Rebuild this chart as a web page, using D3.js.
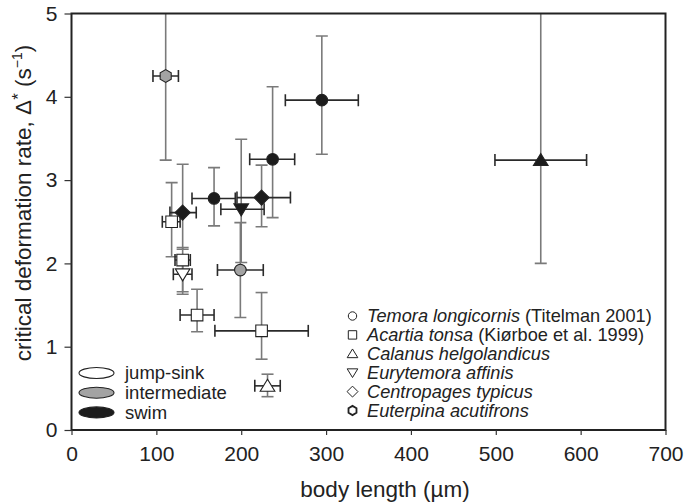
<!DOCTYPE html>
<html>
<head>
<meta charset="utf-8">
<script src="https://cdn.jsdelivr.net/npm/d3@7"></script>
<style>
  html, body { margin: 0; padding: 0; background: #fff; }
  svg { display: block; font-family: "Liberation Sans", Arial, Helvetica, sans-serif; }
</style>
</head>
<body>
<svg id="chart" width="684" height="502"></svg>
<script>
// Copepod species, body length and critical deformation rate
const species = [
  "Euterpina acutifrons", "Temora longicornis", "Temora longicornis", "Temora longicornis",
  "Temora longicornis", "Centropages typicus", "Centropages typicus", "Eurytemora affinis",
  "Eurytemora affinis", "Acartia tonsa", "Acartia tonsa", "Acartia tonsa",
  "Acartia tonsa", "Calanus helgolandicus", "Calanus helgolandicus"
];
const behaviour = [
  "intermediate", "swim", "swim", "swim",
  "intermediate", "swim", "swim", "swim",
  "jump-sink", "jump-sink", "jump-sink", "jump-sink",
  "jump-sink", "jump-sink", "swim"
];
const bodyLength   = [111, 295, 237, 168, 199, 224, 131, 200, 131, 118, 131, 148, 224, 231, 553];
const bodyLengthLo = [ 96, 252, 210, 142, 172, 195, 116, 176, 120, 107, 122, 128, 169, 216, 499];
const bodyLengthHi = [126, 338, 263, 193, 226, 258, 147, 227, 142, 128, 140, 168, 279, 246, 607];
const rate   = [4.25, 3.96, 3.25, 2.78, 1.92, 2.79, 2.61, 2.65, 1.87, 2.50, 2.04, 1.38, 1.19, 0.53, 3.24];
const rateLo = [3.24, 3.31, 2.55, 2.45, 1.35, 2.44, 2.17, 2.01, 1.66, 2.08, 1.63, 1.18, 0.85, 0.40, 2.00];
const rateHi = [5.26, 4.73, 4.12, 3.15, 2.49, 3.18, 3.19, 3.49, 2.10, 2.97, 2.19, 1.69, 1.65, 0.67, 6.00];

const xTicks = [0, 100, 200, 300, 400, 500, 600, 700];
const yTicks = [0, 1, 2, 3, 4, 5];

const behaviourLabels = ["jump-sink", "intermediate", "swim"];
const speciesLegend = [
  { name: "Temora longicornis", note: " (Titelman 2001)" },
  { name: "Acartia tonsa", note: " (Kiørboe et al. 1999)" },
  { name: "Calanus helgolandicus", note: "" },
  { name: "Eurytemora affinis", note: "" },
  { name: "Centropages typicus", note: "" },
  { name: "Euterpina acutifrons", note: "" }
];

const shapeOf = {
  "Temora longicornis": "circle",
  "Acartia tonsa": "square",
  "Calanus helgolandicus": "triangleUp",
  "Eurytemora affinis": "triangleDown",
  "Centropages typicus": "diamond",
  "Euterpina acutifrons": "hexagon"
};
const fillOf = { "jump-sink": "#ffffff", "intermediate": "#a3a3a3", "swim": "#1c1c1c" };

const svg = d3.select("#chart");
const margin = { left: 71.5, right: 684 - 665.5, top: 13.5, bottom: 502 - 430 };
const W = 684, H = 502;
const x = d3.scaleLinear().domain([0, 700]).range([margin.left, W - margin.right]);
const y = d3.scaleLinear().domain([0, 5]).range([H - margin.bottom, margin.top]);

// path for a marker of a given kind centred at the origin, r = half size
function shapePath(kind, r) {
  const p = d3.path();
  if (kind === "circle") {
    p.arc(0, 0, r, 0, 2 * Math.PI);
  } else if (kind === "square") {
    p.rect(-r, -r, 2 * r, 2 * r);
  } else if (kind === "diamond") {
    const d = r * 1.3;
    p.moveTo(0, -d); p.lineTo(d, 0); p.lineTo(0, d); p.lineTo(-d, 0); p.closePath();
  } else if (kind === "triangleUp" || kind === "triangleDown") {
    const s = kind === "triangleUp" ? 1 : -1;
    const h = r * 1.15;
    p.moveTo(0, -s * h); p.lineTo(h * 1.1, s * h * 0.8); p.lineTo(-h * 1.1, s * h * 0.8); p.closePath();
  } else if (kind === "hexagon") {
    for (let i = 0; i < 6; i++) {
      const a = Math.PI / 6 + i * Math.PI / 3;
      const px = Math.cos(a) * r * 1.1, py = Math.sin(a) * r * 1.1;
      if (i === 0) p.moveTo(px, py); else p.lineTo(px, py);
    }
    p.closePath();
  }
  return p.toString();
}

svg.append("defs").append("clipPath").attr("id", "plotClip")
  .append("rect")
  .attr("x", x(0)).attr("y", y(5))
  .attr("width", x(700) - x(0)).attr("height", y(0) - y(5));

const idx = d3.range(rate.length);
const bars = svg.append("g").attr("clip-path", "url(#plotClip)");

// vertical error bars (grey)
const cap = 6;
const vb = bars.append("g").attr("stroke", "#7a7a7a").attr("stroke-width", 1.6).attr("fill", "none");
idx.forEach(i => {
  const cx = x(bodyLength[i]);
  vb.append("line").attr("x1", cx).attr("x2", cx).attr("y1", y(rateLo[i])).attr("y2", y(rateHi[i]));
  vb.append("line").attr("x1", cx - cap).attr("x2", cx + cap).attr("y1", y(rateLo[i])).attr("y2", y(rateLo[i]));
  vb.append("line").attr("x1", cx - cap).attr("x2", cx + cap).attr("y1", y(rateHi[i])).attr("y2", y(rateHi[i]));
});

// horizontal error bars (dark)
const hb = bars.append("g").attr("stroke", "#2a2a2a").attr("stroke-width", 1.6).attr("fill", "none");
idx.forEach(i => {
  const cy = y(rate[i]);
  hb.append("line").attr("x1", x(bodyLengthLo[i])).attr("x2", x(bodyLengthHi[i])).attr("y1", cy).attr("y2", cy);
  hb.append("line").attr("x1", x(bodyLengthLo[i])).attr("x2", x(bodyLengthLo[i])).attr("y1", cy - cap).attr("y2", cy + cap);
  hb.append("line").attr("x1", x(bodyLengthHi[i])).attr("x2", x(bodyLengthHi[i])).attr("y1", cy - cap).attr("y2", cy + cap);
});

// markers
svg.append("g").selectAll("path").data(idx).join("path")
  .attr("transform", i => `translate(${x(bodyLength[i])},${y(rate[i])})`)
  .attr("d", i => shapePath(shapeOf[species[i]], 5.8))
  .attr("fill", i => fillOf[behaviour[i]])
  .attr("stroke", "#222")
  .attr("stroke-width", 1.1);

// frame
svg.append("rect")
  .attr("x", x(0)).attr("y", y(5))
  .attr("width", x(700) - x(0)).attr("height", y(0) - y(5))
  .attr("fill", "none").attr("stroke", "#222").attr("stroke-width", 2);

// axes
const xAxis = svg.append("g")
  .attr("transform", `translate(0,${y(0)})`)
  .call(d3.axisBottom(x).tickValues(xTicks).tickFormat(d3.format("d")).tickSize(5).tickPadding(11));
const yAxis = svg.append("g")
  .attr("transform", `translate(${x(0)},0)`)
  .call(d3.axisLeft(y).tickValues(yTicks).tickFormat(d3.format("d")).tickSize(7).tickPadding(7));
[xAxis, yAxis].forEach(a => {
  a.select(".domain").remove();
  a.selectAll(".tick line").attr("stroke", "#333").attr("stroke-width", 1.2);
  a.selectAll(".tick text").attr("fill", "#222").style("font-size", "21px")
    .style("font-family", "'Liberation Sans', Arial, sans-serif");
});

// axis titles
svg.append("text")
  .attr("x", 385).attr("y", 497)
  .attr("text-anchor", "middle").attr("fill", "#222").style("font-size", "22.5px")
  .text("body length (µm)");

const yt = svg.append("text")
  .attr("transform", `translate(31,203) rotate(-90)`)
  .attr("text-anchor", "middle").attr("fill", "#222").style("font-size", "22.5px");
yt.append("tspan").text("critical deformation rate, Δ");
yt.append("tspan").attr("dy", -7).style("font-size", "17px").text("*");
yt.append("tspan").attr("dy", 7).text(" (s");
yt.append("tspan").attr("dy", -9).style("font-size", "14px").text("−1");
yt.append("tspan").attr("dy", 9).text(")");

// behaviour legend
const bl = svg.append("g");
behaviourLabels.forEach((b, k) => {
  const cy = 373 + k * 19.7;
  bl.append("ellipse").attr("cx", 96.5).attr("cy", cy).attr("rx", 17.5).attr("ry", 5.5)
    .attr("fill", fillOf[b]).attr("stroke", "#222").attr("stroke-width", 1.1);
  bl.append("text").attr("x", 125).attr("y", cy).attr("dy", "0.35em")
    .attr("fill", "#222").style("font-size", "18.5px").text(b);
});

// species legend
const sl = svg.append("g");
speciesLegend.forEach((s, k) => {
  const cy = 316 + k * 18.9;
  sl.append("path").attr("transform", `translate(352.5,${cy})`)
    .attr("d", shapePath(shapeOf[s.name], 4.2))
    .attr("fill", "#fff").attr("stroke", "#222")
    .attr("stroke-width", s.name === "Euterpina acutifrons" ? 1.8 : 1);
  const t = sl.append("text").attr("x", 367).attr("y", cy).attr("dy", "0.35em")
    .attr("fill", "#222").style("font-size", "18.2px");
  t.append("tspan").style("font-style", "italic").text(s.name);
  if (s.note) t.append("tspan").text(s.note);
});
</script>
</body>
</html>
